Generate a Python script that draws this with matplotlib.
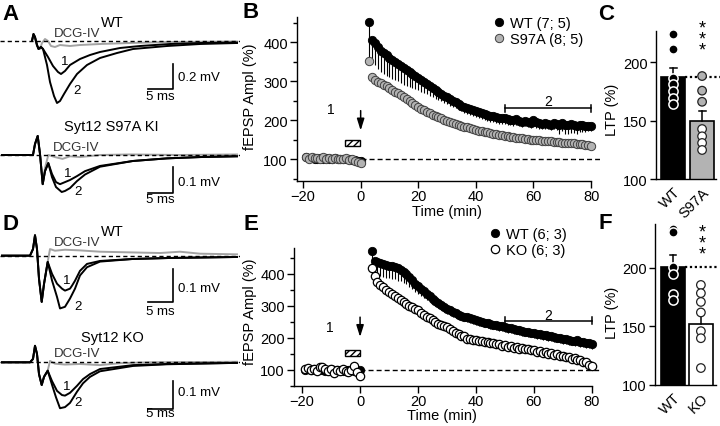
import numpy as np
import matplotlib
matplotlib.use('Agg')
import matplotlib.pyplot as plt
from matplotlib.patches import Rectangle

plt.rcParams['font.family'] = ['Liberation Sans', 'DejaVu Sans']
plt.rcParams['font.size'] = 10
plt.rcParams['axes.linewidth'] = 1.0
plt.rcParams['hatch.linewidth'] = 1.0

W, H = 720, 427
GRAY = '#b3b3b3'
TGRAY = '#a3a3a3'
DASH = (0, (3.6, 2.2))

# ---------------- A / D: example traces (time in ms, amplitude in mV) ----------------
# A, WT
a1_t = [0, 0.3, 0.6, 1.0, 1.3, 1.8, 2.2, 3.2, 4.2, 5.2, 5.8, 6.6, 7.6, 9.6, 11.6, 13.6, 17.6, 21.6, 27.6, 33.6, 41.0]
a1_v = [0, 0.054, 0.030, -0.034, -0.066, -0.050, -0.066, -0.130, -0.202, -0.250, -0.266, -0.242, -0.194,
        -0.146, -0.114, -0.090, -0.058, -0.042, -0.026, -0.018, -0.014]
a2_t = [0, 0.3, 0.6, 1.0, 1.3, 1.8, 2.2, 3.0, 3.6, 4.4, 5.0, 5.6, 6.4, 7.6, 9.0, 11.0, 13.6, 17.0, 20.2, 27.0, 33.6, 41.0]
a2_v = [0, 0.054, 0.030, -0.034, -0.066, -0.050, -0.066, -0.194, -0.330, -0.442, -0.498, -0.482, -0.426,
        -0.346, -0.266, -0.194, -0.138, -0.098, -0.066, -0.042, -0.026, -0.018]
ag_t = [0, 0.3, 0.6, 1.0, 1.6, 2.0, 2.6, 3.2, 3.8, 4.6, 5.6, 7.6, 9.6, 13.6, 19.6, 27.6, 41.0]
ag_v = [0, 0.046, 0.014, -0.042, -0.066, -0.018, 0.014, -0.002, -0.042, -0.050, -0.034, -0.042, -0.034,
        -0.026, -0.018, -0.010, -0.006]
# A, Syt12 S97A KI
k1_t = [-5.6, 0, 0.6, 1.0, 1.54, 2.0, 2.54, 3.0, 3.66, 4.4, 5.2, 6.0, 7.0, 8.0, 9.4, 11.0, 14.0, 20.6, 27.4, 34.0, 41.4]
k1_v = [0, 0, 0, 0.042, 0.073, 0.004, -0.112, -0.062, -0.031, -0.073, -0.104, -0.112, -0.104, -0.096,
        -0.081, -0.062, -0.042, -0.023, -0.013, -0.008, -0.005]
k2_t = [-5.6, 0, 0.6, 1.0, 1.54, 2.0, 2.54, 3.0, 3.66, 4.4, 5.2, 6.34, 7.0, 8.0, 9.4, 11.0, 14.0, 20.6, 27.4, 34.0, 41.4]
k2_v = [0, 0, 0, 0.042, 0.073, 0.004, -0.112, -0.062, -0.031, -0.085, -0.123, -0.142, -0.138, -0.127,
        -0.100, -0.075, -0.045, -0.023, -0.013, -0.008, -0.005]
kg_t = [-5.6, 0, 0.6, 1.0, 1.54, 2.0, 2.54, 3.0, 3.66, 5.0, 6.5, 8.0, 10.0, 14.0, 20.0, 30.0, 41.4]
kg_v = [0, 0, 0, 0.042, 0.073, 0.004, -0.112, -0.05, 0.0, -0.008, -0.015, -0.005, -0.008, 0.0, 0.002, 0.0, 0.002]
# D, WT
d1_t = [-5.6, 0, 0.6, 1.0, 1.4, 1.8, 2.34, 2.8, 3.54, 4.4, 5.4, 6.4, 7.0, 8.0, 8.4, 9.0, 10.0, 11.4, 14.0, 20.6, 28.0, 41.4]
d1_v = [0, 0, 0.020, 0.062, 0.020, -0.070, -0.140, -0.086, -0.019, -0.055, -0.085, -0.100, -0.106, -0.100,
        -0.091, -0.076, -0.046, -0.025, -0.016, -0.010, -0.007, -0.004]
d2_t = [-5.6, 0, 0.6, 1.0, 1.4, 1.8, 2.34, 2.8, 3.54, 4.4, 5.4, 6.0, 7.0, 8.0, 9.0, 10.0, 11.4, 14.0, 20.6, 28.0, 41.4]
d2_v = [0, 0, 0.020, 0.062, 0.020, -0.070, -0.140, -0.086, -0.019, -0.075, -0.125, -0.160, -0.155, -0.130,
        -0.100, -0.060, -0.035, -0.018, -0.010, -0.007, -0.004]
dg_t = [-5.6, 0, 0.6, 1.0, 1.4, 1.8, 2.34, 2.8, 3.54, 4.0, 5.0, 7.0, 10.0, 14.0, 20.0, 26.0, 30.0, 34.0, 41.4]
dg_v = [0, 0, 0.020, 0.062, 0.020, -0.070, -0.140, -0.086, -0.019, 0.020, 0.015, 0.018, 0.016, 0.012,
        0.010, 0.008, 0.012, 0.006, 0.004]
# D, Syt12 KO
o1_t = [-5.6, 0, 0.6, 1.0, 1.4, 1.8, 2.34, 2.8, 3.54, 4.4, 5.4, 6.4, 7.0, 8.0, 9.4, 10.6, 12.0, 14.0, 20.6, 27.4, 41.4]
o1_v = [0, 0, 0.012, 0.059, 0.030, -0.042, -0.081, -0.052, -0.030, -0.067, -0.102, -0.117, -0.119, -0.109,
        -0.084, -0.060, -0.042, -0.024, -0.010, -0.006, -0.002]
o2_t = [-5.6, 0, 0.6, 1.0, 1.4, 1.8, 2.34, 2.8, 3.54, 4.4, 5.2, 6.0, 7.0, 8.0, 9.4, 10.6, 12.0, 14.0, 20.6, 27.4, 41.4]
o2_v = [0, 0, 0.012, 0.059, 0.030, -0.042, -0.081, -0.052, -0.030, -0.080, -0.125, -0.164, -0.160, -0.145,
        -0.105, -0.075, -0.052, -0.032, -0.013, -0.007, -0.002]
og_t = [-5.6, 0, 0.6, 1.0, 1.4, 1.8, 2.34, 2.8, 3.54, 4.0, 5.0, 7.0, 10.0, 14.0, 18.0, 24.0, 41.4]
og_v = [0, 0, 0.012, 0.059, 0.030, -0.042, -0.081, -0.052, -0.030, 0.005, -0.005, -0.008, -0.006, -0.010,
        -0.003, 0.0, 0.002]

# ---------------- B: time course WT vs S97A ----------------
t_base = [-19, -18, -17, -16, -15, -14, -13, -12, -11, -10, -9, -8, -7, -6, -5, -4, -3, -2, -1, 0]
b_wt_base = [104, 102, 103, 100, 101, 102, 100, 103, 101, 100, 102, 100, 99, 101, 100, 99, 98, 97, 95, 96]
b_ki_base = [106, 100, 104, 102, 103, 100, 104, 101, 102, 100, 103, 99, 101, 100, 102, 98, 99, 96, 93, 89]
tb_post = [3, 4, 5, 6, 7, 8, 9, 10, 11, 12, 13, 14, 15, 16, 17, 18, 19, 20, 21, 22, 23, 24, 25, 26, 27, 28,
           29, 30, 31, 32, 33, 34, 35, 36, 37, 38, 39, 40, 41, 42, 43, 44, 45, 46, 47, 48, 49, 50, 51, 52, 53,
           54, 55, 56, 57, 58, 59, 60, 61, 62, 63, 64, 65, 66, 67, 68, 69, 70, 71, 72, 73, 74, 75, 76, 77, 78,
           79, 80]
b_wt = [452, 405, 398, 386, 378, 372, 366, 360, 354, 349, 344, 339, 333, 328, 323, 318, 313, 308, 302, 297,
        292, 287, 282, 277, 272, 267, 262, 258, 253, 249, 245, 241, 237, 234, 231, 228, 225, 222, 220, 217,
        215, 213, 211, 209, 207, 205, 204, 206, 202, 200, 199, 202, 198, 196, 198, 195, 193, 199, 194, 192,
        190, 192, 190, 188, 192, 189, 187, 193, 188, 186, 190, 187, 185, 188, 186, 184, 185, 185]
b_wt_sem = [95, 60, 58, 56, 55, 54, 52, 50, 48, 47, 45, 44, 42, 40, 38, 36, 34, 32, 30, 28, 26, 25, 24, 22,
            20, 19, 18, 17, 16, 16, 15, 15, 15, 15, 15, 15, 15, 15, 15, 15, 15, 15, 15, 15, 15, 15, 15, 15,
            14, 14, 14, 14, 14, 14, 14, 14, 14, 14, 14, 14, 14, 14, 14, 14, 14, 14, 22, 20, 24, 21, 23, 20,
            22, 18, 16, 14, 14, 12]
b_ki = [352, 310, 303, 298, 294, 290, 286, 282, 277, 273, 268, 263, 258, 254, 249, 244, 239, 234, 229, 225,
        221, 217, 214, 210, 207, 204, 201, 198, 195, 192, 190, 187, 185, 183, 181, 179, 177, 175, 173, 171,
        169, 168, 166, 165, 163, 162, 161, 159, 158, 157, 156, 155, 154, 153, 152, 151, 150, 149, 149, 148,
        147, 146, 146, 145, 144, 144, 143, 142, 142, 141, 140, 140, 139, 139, 138, 137, 137, 133]

# ---------------- E: time course WT vs KO ----------------
e_wt_base = [101, 104, 99, 102, 100, 103, 101, 98, 100, 102, 99, 101, 100, 97, 99, 101, 100, 98, 96, 99]
e_ko_base = [103, 106, 100, 104, 96, 108, 110, 102, 98, 104, 92, 100, 96, 104, 98, 94, 100, 112, 95, 80]
te_post = [4, 5, 6, 7, 8, 9, 10, 11, 12, 13, 14, 15, 16, 17, 18, 19, 20, 21, 22, 23, 24, 25, 26, 27, 28, 29,
           30, 31, 32, 33, 34, 35, 36, 37, 38, 39, 40, 41, 42, 43, 44, 45, 46, 47, 48, 49, 50, 51, 52, 53, 54,
           55, 56, 57, 58, 59, 60, 61, 62, 63, 64, 65, 66, 67, 68, 69, 70, 71, 72, 73, 74, 75, 76, 77, 78, 79,
           80]
e_wt = [473, 440, 437, 433, 430, 428, 426, 424, 421, 417, 413, 407, 399, 390, 380, 370, 361, 353, 346, 338,
        331, 323, 316, 309, 302, 297, 291, 286, 281, 277, 273, 270, 267, 264, 261, 258, 256, 253, 251, 248,
        246, 244, 242, 240, 238, 236, 234, 232, 230, 228, 226, 224, 222, 220, 219, 217, 215, 213, 212, 210,
        208, 206, 205, 203, 201, 199, 197, 196, 194, 192, 190, 193, 188, 186, 185, 183, 180]
e_wt_sem = [45, 40, 40, 40, 40, 40, 40, 40, 38, 38, 36, 34, 32, 30, 28, 26, 24, 22, 20, 18, 16, 15, 15, 15,
            15, 15, 15, 15, 15, 15, 15, 15, 15, 15, 15, 15, 15, 15, 15, 15, 15, 15, 15, 15, 15, 15, 15, 15,
            15, 15, 15, 15, 15, 15, 15, 15, 15, 15, 15, 15, 15, 15, 15, 15, 15, 15, 15, 15, 15, 15, 15, 15,
            15, 15, 15, 15, 15]
e_ko = [420, 392, 376, 366, 358, 351, 344, 338, 331, 324, 318, 312, 306, 301, 296, 291, 286, 279, 273, 267,
        262, 257, 251, 245, 241, 237, 233, 227, 222, 217, 213, 206, 205, 198, 197, 193, 195, 190, 192, 186,
        188, 183, 185, 180, 182, 176, 178, 173, 175, 170, 173, 167, 170, 164, 167, 161, 163, 157, 160, 154,
        157, 151, 153, 147, 149, 143, 144, 139, 141, 135, 137, 130, 132, 125, 124, 117, 113]

# ---------------- C / F: LTP summary ----------------
c_groups = ['WT', 'S97A']
c_mean = [187.5, 149.5]
c_sem = [7.5, 8.5]
c_wt_pts = [224, 211, 186, 181, 175, 169, 164]
c_ki_pts = [188, 175.5, 166, 142.7, 136.5, 130.8, 124.8]
f_groups = ['WT', 'KO']
f_mean = [201, 152]
f_sem = [10.5, 11]
f_wt_pts = [233, 231, 200.6, 195, 178, 172.6]
f_ko_pts = [185.5, 178.5, 171, 162, 146, 140, 114.5]

fig = plt.figure(figsize=(7.2, 4.27), dpi=100)


def fx(px):
    return px / W


def fy(py):
    return 1 - py / H


def px_axes(l, t, r, b):
    return fig.add_axes([l / W, 1 - b / H, (r - l) / W, (b - t) / H])


def ftext(px, py, s, **kw):
    kw.setdefault('ha', 'center')
    kw.setdefault('va', 'center')
    fig.text(fx(px), fy(py), s, **kw)


# ---- trace panels ----
trace_panels = [
    # box px, xlim, ylim, traces, scale bar (x, y0, height), texts
    ((0, 20, 240, 112), (-6.4, 41.6), (-0.562, 0.174), (a1_t, a1_v, a2_t, a2_v, ag_t, ag_v),
     (28.2, -0.386, 0.2), 'WT', '0.2 mV',
     [(112, 23), (77, 34), (65, 62), (77, 91), (178, 78), (160, 97)]),
    ((0, 120, 240, 205), (-6, 42), (-0.188, 0.138), (k1_t, k1_v, k2_t, k2_v, kg_t, kg_v),
     (28.6, -0.146, 0.1), 'Syt12 S97A KI', '0.1 mV',
     [(111, 127), (76, 148), (68, 174), (78, 192), (178, 183), (160, 200)]),
    ((0, 225, 240, 320), (-6, 42), (-0.192, 0.096), (d1_t, d1_v, d2_t, d2_v, dg_t, dg_v),
     (28.6, -0.140, 0.1), 'WT', '0.1 mV',
     [(112, 232), (77, 243), (67, 281), (78, 307), (178, 289), (160, 312)]),
    ((0, 330, 240, 420), (-6, 42), (-0.2025, 0.119), (o1_t, o1_v, o2_t, o2_v, og_t, og_v),
     (28.6, -0.167, 0.1), 'Syt12 KO', '0.1 mV',
     [(112, 338), (77, 354), (67, 387), (78, 403), (178, 393), (160, 414)]),
]
for box, xl, yl, tr, sb, title, vlab, pos in trace_panels:
    ax = px_axes(*box)
    ax.set_xlim(*xl)
    ax.set_ylim(*yl)
    ax.axis('off')
    ax.plot(tr[4], tr[5], color=TGRAY, lw=1.4, zorder=2)
    ax.plot(tr[0], tr[1], color='k', lw=1.4, zorder=3)
    ax.plot(tr[2], tr[3], color='k', lw=1.4, zorder=3)
    ax.plot([xl[0], xl[1]], [0, 0], color='k', lw=1.0, ls=(0, (3, 2.2)), zorder=4)
    x, y0, hgt = sb
    ax.plot([x - 5, x, x], [y0, y0, y0 + hgt], color='k', lw=1.2, clip_on=False)
    ftext(*pos[0], title, fontsize=10.5)
    ftext(*pos[1], 'DCG-IV', fontsize=9.5, color='#333333')
    ftext(*pos[2], '1', fontsize=9.5)
    ftext(*pos[3], '2', fontsize=9.5)
    ftext(*pos[4], vlab, fontsize=9.5, ha='left')
    ftext(*pos[5], '5 ms', fontsize=9.5)


# ---- time course panels ----
def time_course(box, xl, yl, ytop, t_post, wt_base, wt, wt_sem, mut_base, mut, mut_style, labels,
                leg_xy, arrow_y, box_y, one_y, br_y, br_h, two_y):
    ax = px_axes(*box)
    ax.set_xlim(*xl)
    ax.set_ylim(*yl)
    ax.plot([0, xl[1]], [100, 100], color='k', lw=1.0, ls=DASH, zorder=1)
    ax.errorbar(t_post, wt, yerr=[wt_sem, [0] * len(wt_sem)], fmt='none', ecolor='k', elinewidth=0.8,
                capsize=0, zorder=2)
    h1, = ax.plot(t_base + t_post, wt_base + wt, 'o', ms=6, mfc='k', mec='k', mew=0.6, zorder=3)
    h2, = ax.plot(t_base + t_post, mut_base + mut, 'o', ms=6, zorder=4, **mut_style)
    ax.legend([h1, h2], labels, loc='upper left', bbox_to_anchor=leg_xy, bbox_transform=fig.transFigure,
              frameon=False, handlelength=0.6, handletextpad=0.4, borderpad=0, borderaxespad=0,
              labelspacing=0.12, fontsize=10.5, numpoints=1)
    for s in ['top', 'right']:
        ax.spines[s].set_visible(False)
    ax.spines['left'].set_bounds(yl[0], ytop)
    ax.spines['bottom'].set_bounds(xl[0], 80)
    ax.set_xticks([-20, 0, 20, 40, 60, 80])
    ax.set_yticks([100, 200, 300, 400])
    ax.set_yticks([50, 150, 250, 350, 450], minor=True)
    ax.tick_params(direction='out', length=5, width=1, labelsize=10.5, pad=1.5)
    ax.tick_params(axis='x', pad=0.5)
    ax.tick_params(which='minor', direction='out', length=3, width=1)
    ax.annotate('', xy=(0, arrow_y[1]), xytext=(0, arrow_y[0]),
                arrowprops=dict(arrowstyle='-|>,head_width=0.22,head_length=0.7', color='k', lw=1.1,
                                shrinkA=0, shrinkB=0))
    ax.add_patch(Rectangle((-5.3, box_y[0]), 5.2, box_y[1], facecolor='white', edgecolor='k', hatch='/////',
                           lw=1, zorder=3))
    ax.text(-10.3, one_y, '1', ha='center', va='center', fontsize=10)
    ax.plot([50, 80], [br_y, br_y], color='k', lw=1.1)
    ax.plot([50, 50], [br_y - br_h, br_y + br_h], color='k', lw=1.1)
    ax.plot([80, 80], [br_y - br_h, br_y + br_h], color='k', lw=1.1)
    ax.text(65, two_y, '2', ha='center', va='center', fontsize=10)
    return ax


time_course((297, 15, 600, 182), (-22.1, 83.1), (43.6, 471.8), 465, tb_post, b_wt_base, b_wt, b_wt_sem,
            b_ki_base, b_ki, dict(mfc=GRAY, mec='#404040', mew=0.7), ['WT (7; 5)', 'S97A (8; 5)'],
            (fx(495), fy(17)), (224, 173), (134, 14.5), 228, 230, 9, 250)
ftext(250, 97, 'fEPSP Ampl (%)', rotation=90, fontsize=10.5)
ftext(447, 212, 'Time (min)', fontsize=10.5)

time_course((294, 240, 600, 387), (-22.8, 82.8), (50, 509), 482, te_post, e_wt_base, e_wt, e_wt_sem,
            e_ko_base, e_ko, dict(mfc='white', mec='k', mew=0.9), ['WT (6; 3)', 'KO (6; 3)'],
            (fx(491), fy(228)), (265, 203), (145, 17), 233, 254, 11, 272)
ftext(250, 312, 'fEPSP Ampl (%)', rotation=90, fontsize=10.5)
ftext(442, 416, 'Time (min)', fontsize=10.5)


# ---- LTP bar panels ----
def ltp_panel(box, xl, yl, groups, means, sems, wt_pts, mut_pts, mut_bar, mut_face, star_y, ylab_y):
    ax = px_axes(*box)
    ax.set_xlim(*xl)
    ax.set_ylim(*yl)
    ax.bar([0, 1], means, width=0.83, bottom=0, color=['k', mut_bar], edgecolor='k', lw=1.2, zorder=1)
    for i in range(2):
        ax.plot([i, i], [means[i], means[i] + sems[i]], color='k', lw=1.1, zorder=2)
        ax.plot([i - 0.12, i + 0.12], [means[i] + sems[i]] * 2, color='k', lw=1.1, zorder=2)
    ax.plot([0.42, 1.62], [means[0], means[0]], color='k', lw=1.6, ls=(0, (1, 1.2)), clip_on=False,
            zorder=2)
    ax.scatter([0] * len(wt_pts), wt_pts, s=44, facecolor='k', edgecolor='white', linewidth=1.1,
               zorder=3, clip_on=False)
    faces = [mut_face if v > means[1] else 'white' for v in mut_pts]
    ax.scatter([1] * len(mut_pts), mut_pts, s=38, facecolor=faces, edgecolor='#222222', linewidth=0.9,
               zorder=3, clip_on=False)
    for s in ['top', 'right']:
        ax.spines[s].set_visible(False)
    ax.spines['left'].set_bounds(100, yl[1])
    ax.set_yticks([100, 150, 200])
    ax.set_xticks([0, 1])
    ax.set_xticklabels(groups, rotation=45, ha='right', rotation_mode='anchor')
    ax.tick_params(axis='y', direction='out', length=4, width=1, labelsize=10.5, pad=2)
    ax.tick_params(axis='x', length=0, labelsize=10.5, pad=4)
    ftext(702, star_y, '*\n*\n*', fontsize=13, linespacing=0.55)
    ftext(612, ylab_y, 'LTP (%)', rotation=90, fontsize=10.5)
    return ax


ltp_panel((656, 32, 716, 180), (-0.59, 1.48), (100, 226.5), c_groups, c_mean, c_sem, c_wt_pts, c_ki_pts,
          GRAY, GRAY, 40, 110)
ltp_panel((655, 225, 716, 386), (-0.64, 1.54), (100, 237.6), f_groups, f_mean, f_sem, f_wt_pts, f_ko_pts,
          'white', 'white', 244, 313)

# ---- panel letters ----
for letter, px, py in [('A', 2, 15), ('B', 242, 13), ('C', 598, 14), ('D', 2, 225), ('E', 243, 225),
                       ('F', 598, 224)]:
    ftext(px, py, letter, ha='left', fontsize=16, fontweight='bold')

fig.savefig('out.png', dpi=100)
